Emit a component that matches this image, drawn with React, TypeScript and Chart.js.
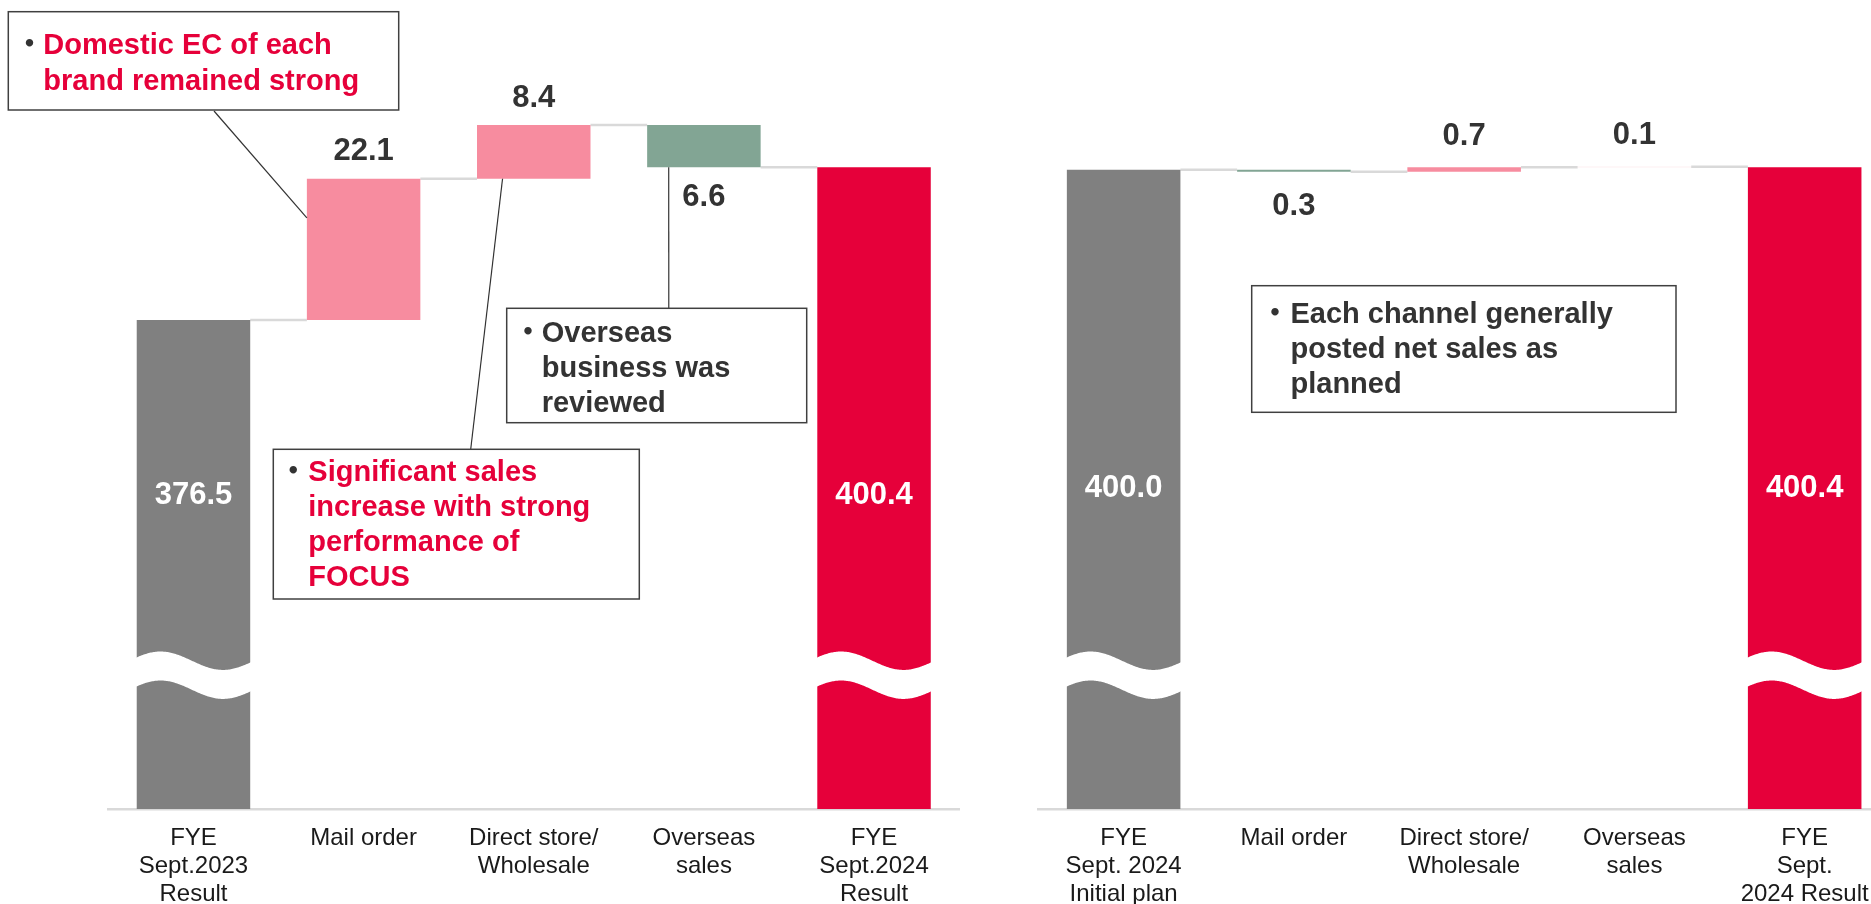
import React, { useEffect, useRef } from "react";
import { Chart, registerables } from "chart.js";

Chart.register(...registerables);

// ---------------- data ----------------
const leftLabels = [
  ["FYE", "Sept.2023", "Result"],
  ["Mail order"],
  ["Direct store/", "Wholesale"],
  ["Overseas", "sales"],
  ["FYE", "Sept.2024", "Result"],
];
const leftStartValue = 376.5;
const leftChanges = [22.1, 8.4, -6.6];
const leftEndValue = 400.4;

const rightLabels = [
  ["FYE", "Sept. 2024", "Initial plan"],
  ["Mail order"],
  ["Direct store/", "Wholesale"],
  ["Overseas", "sales"],
  ["FYE", "Sept.", "2024 Result"],
];
const rightStartValue = 400.0;
const rightChanges = [-0.3, 0.7, 0.1];
const rightEndValue = 400.4;

const axisMin = 300;
const axisMax = 420;

const note1Lines = ["Domestic EC of each", "brand remained strong"];
const note2Lines = ["Significant sales", "increase with strong", "performance of", "FOCUS"];
const note3Lines = ["Overseas", "business was", "reviewed"];
const note4Lines = ["Each channel generally", "posted net sales as", "planned"];

// ---------------- styles ----------------
const GRAY = "#808080";
const RED = "#E6003A";
const PINK = "#F78C9F";
const GREEN = "#82A594";
const LIGHT_PINK = "#FBDDE3";
const FONT = '"Liberation Sans", Arial, Helvetica, sans-serif';
const leftChangeColors = [PINK, PINK, GREEN];
const rightChangeColors = [GREEN, PINK, LIGHT_PINK];

const r1 = (v: number) => Math.round(v * 10) / 10;

function buildWaterfall(start: number, changes: number[], end: number) {
  const ranges: number[][] = [[axisMin, start]];
  const levels: number[] = [start];
  let cur = start;
  for (const d of changes) {
    const next = r1(cur + d);
    ranges.push([Math.min(cur, next), Math.max(cur, next)]);
    levels.push(next);
    cur = next;
  }
  ranges.push([axisMin, end]);
  levels.push(end);
  return { ranges, levels };
}

const decoPlugin: any = {
  id: "deco",
  beforeDatasetsDraw(chart: any, _a: any, o: any) {
    const { ctx } = chart;
    const meta = chart.getDatasetMeta(0);
    const ys = chart.scales.y;
    const levels = o.levels;
    ctx.save();
    ctx.strokeStyle = "#D9D9D9";
    ctx.lineWidth = 2.5;
    for (let i = 0; i < meta.data.length - 1; i++) {
      const a = meta.data[i];
      const b = meta.data[i + 1];
      const py = ys.getPixelForValue(levels[i]);
      ctx.beginPath();
      ctx.moveTo(a.x + a.width / 2, py);
      ctx.lineTo(b.x - b.width / 2, py);
      ctx.stroke();
    }
    ctx.restore();
  },
  afterDatasetsDraw(chart: any, _a: any, o: any) {
    const { ctx } = chart;
    const meta = chart.getDatasetMeta(0);
    const ys = chart.scales.y;
    const n = meta.data.length;
    ctx.save();
    // axis break (wavy white band) on the two total bars
    const yc = ys.getPixelForValue(o.breakValue);
    for (const idx of [0, n - 1]) {
      const el = meta.data[idx];
      const left = el.x - el.width / 2;
      const w = el.width;
      const f = (x: number) =>
        yc - o.breakAmp * Math.cos((2 * Math.PI * ((x - left) / w - 0.21)) / 1.1);
      const xL = left - 1;
      const xR = left + w + 1;
      ctx.beginPath();
      ctx.moveTo(xL, f(xL));
      for (let x = xL; x <= xR; x += 1) ctx.lineTo(x, f(x));
      ctx.lineTo(xR, f(xR));
      ctx.lineTo(xR, f(xR) + o.breakGap);
      for (let x = xR; x >= xL; x -= 1) ctx.lineTo(x, f(x) + o.breakGap);
      ctx.lineTo(xL, f(xL) + o.breakGap);
      ctx.closePath();
      ctx.fillStyle = "#ffffff";
      ctx.fill();
    }
    // value labels
    ctx.font = `bold 31px ${FONT}`;
    ctx.textAlign = "center";
    ctx.textBaseline = "middle";
    const changes = o.changes;
    for (let k = 0; k < changes.length; k++) {
      const d = changes[k];
      const el = meta.data[k + 1];
      const top = Math.min(el.y, el.base);
      const bot = Math.max(el.y, el.base);
      ctx.fillStyle = "#333333";
      const y = d >= 0 ? top - o.aboveGap : bot + o.belowGap;
      ctx.fillText(Math.abs(d).toFixed(1), el.x, y);
    }
    const totals = o.totals;
    const iy = ys.getPixelForValue(o.insideValue);
    ctx.fillStyle = "#ffffff";
    ctx.fillText(Number(totals[0]).toFixed(1), meta.data[0].x, iy);
    ctx.fillText(Number(totals[1]).toFixed(1), meta.data[n - 1].x, iy);
    ctx.restore();
  },
  afterDraw(chart: any, _a: any, o: any) {
    const { ctx } = chart;
    const meta = chart.getDatasetMeta(0);
    const ox = o.offsetX;
    const notes = o.notes || [];
    ctx.save();
    for (const nt of notes) {
      // leader line
      if (nt.leader) {
        const ld = nt.leader;
        const el = meta.data[ld.bar];
        let bx: number, by: number;
        const top = Math.min(el.y, el.base);
        const bot = Math.max(el.y, el.base);
        if (ld.side === "left") {
          bx = el.x - el.width / 2;
          by = top + ld.frac * (bot - top);
        } else {
          bx = el.x - el.width / 2 + ld.frac * el.width;
          by = bot;
        }
        ctx.strokeStyle = "#333333";
        ctx.lineWidth = 1.2;
        ctx.beginPath();
        ctx.moveTo(ld.from[0] - ox, ld.from[1]);
        ctx.lineTo(bx, by);
        ctx.stroke();
      }
      const [rx, ry, rw, rh] = nt.rect;
      ctx.fillStyle = "#ffffff";
      ctx.fillRect(rx - ox, ry, rw, rh);
      ctx.strokeStyle = "#404040";
      ctx.lineWidth = 1.5;
      ctx.strokeRect(rx - ox, ry, rw, rh);
      ctx.fillStyle = nt.color;
      ctx.textBaseline = "alphabetic";
      ctx.textAlign = "center";
      ctx.font = `bold 29px "Noto Sans CJK JP", ${FONT}`;
      ctx.fillStyle = "#333333";
      ctx.fillText("・", nt.bulletX - ox, nt.baselines[0]);
      ctx.fillStyle = nt.color;
      ctx.textAlign = "left";
      ctx.font = `bold 29px ${FONT}`;
      const lines = nt.lines;
      for (let i = 0; i < lines.length; i++) {
        ctx.fillText(lines[i], nt.textX - ox, nt.baselines[i]);
      }
    }
    ctx.restore();
  },
};

function makeConfig(p: {
  labels: string[][];
  start: number;
  changes: number[];
  end: number;
  changeColors: string[];
  padLeft: number;
  padRight: number;
  offsetX: number;
  aboveGap: number;
  belowGap: number;
  insideValue: number;
  notes: any[];
}) {
  const { ranges, levels } = buildWaterfall(p.start, p.changes, p.end);
  const colors = [GRAY, ...p.changeColors, RED];
  return {
    type: "bar",
    data: {
      labels: p.labels,
      datasets: [
        {
          data: ranges,
          backgroundColor: colors,
          borderWidth: 0,
          barPercentage: 1,
          categoryPercentage: 0.667,
        },
      ],
    },
    options: {
      animation: false,
      responsive: false,
      devicePixelRatio: 1,
      layout: { padding: { left: p.padLeft, right: p.padRight, top: 42, bottom: 0 } },
      plugins: {
        legend: { display: false },
        tooltip: { enabled: false },
        deco: {
          levels,
          changes: p.changes,
          totals: [p.start, p.end],
          breakValue: 323.2,
          breakAmp: 9.2,
          breakGap: 29,
          aboveGap: p.aboveGap,
          belowGap: p.belowGap,
          insideValue: p.insideValue,
          offsetX: p.offsetX,
          notes: p.notes,
        },
      },
      scales: {
        x: {
          grid: { display: false, drawTicks: false },
          border: { display: true, color: "#D9D9D9", width: 2.5 },
          ticks: {
            color: "#1a1a1a",
            font: { family: FONT, size: 24, lineHeight: 1.18 },
            padding: 15,
            maxRotation: 0,
            minRotation: 0,
            autoSkip: false,
          },
          afterFit: (s: any) => {
            s.height = 95;
          },
        },
        y: { display: false, min: axisMin, max: axisMax },
      },
    },
    plugins: [decoPlugin],
  } as any;
}

export default function App() {
  const leftRef = useRef<HTMLCanvasElement>(null);
  const rightRef = useRef<HTMLCanvasElement>(null);

  useEffect(() => {
    const left = new Chart(
      leftRef.current as HTMLCanvasElement,
      makeConfig({
        labels: leftLabels,
        start: leftStartValue,
        changes: leftChanges,
        end: leftEndValue,
        changeColors: leftChangeColors,
        padLeft: 108.4,
        padRight: 40.9,
        offsetX: 0,
        aboveGap: 27,
        belowGap: 30.5,
        insideValue: 349,
        notes: [
          {
            rect: [8.3, 11.7, 390.4, 98.3],
            color: RED,
            bulletX: 29.5,
            textX: 43.3,
            baselines: [54, 89.5],
            lines: note1Lines,
            leader: { from: [214, 111], bar: 1, side: "left", frac: 0.277 },
          },
          {
            rect: [273.3, 449.3, 366, 149.7],
            color: RED,
            bulletX: 293.3,
            textX: 308.3,
            baselines: [480.7, 515.7, 550.7, 585.7],
            lines: note2Lines,
            leader: { from: [470.7, 449.3], bar: 2, side: "bottom", frac: 0.225 },
          },
          {
            rect: [506.7, 308.3, 300, 114.4],
            color: "#333333",
            bulletX: 528,
            textX: 541.7,
            baselines: [342.3, 377.3, 412.3],
            lines: note3Lines,
            leader: { from: [668.8, 308.3], bar: 3, side: "bottom", frac: 0.19 },
          },
        ],
      })
    );
    const right = new Chart(
      rightRef.current as HTMLCanvasElement,
      makeConfig({
        labels: rightLabels,
        start: rightStartValue,
        changes: rightChanges,
        end: rightEndValue,
        changeColors: rightChangeColors,
        padLeft: 38.5,
        padRight: 10.2,
        offsetX: 1000,
        aboveGap: 31,
        belowGap: 35,
        insideValue: 350.2,
        notes: [
          {
            rect: [1251.7, 285.7, 424.3, 126.6],
            color: "#333333",
            bulletX: 1275,
            textX: 1290.5,
            baselines: [323.3, 358.3, 393.3],
            lines: note4Lines,
          },
        ],
      })
    );
    return () => {
      left.destroy();
      right.destroy();
    };
  }, []);

  return (
    <div
      style={{
        position: "absolute",
        left: 0,
        top: 0,
        width: 1871,
        height: 904,
        overflow: "hidden",
        background: "#ffffff",
      }}
    >
      <canvas
        ref={leftRef}
        width={1000}
        height={904}
        style={{ position: "absolute", left: 0, top: 0, width: 1000, height: 904 }}
      />
      <canvas
        ref={rightRef}
        width={900}
        height={904}
        style={{ position: "absolute", left: 1000, top: 0, width: 900, height: 904 }}
      />
    </div>
  );
}
